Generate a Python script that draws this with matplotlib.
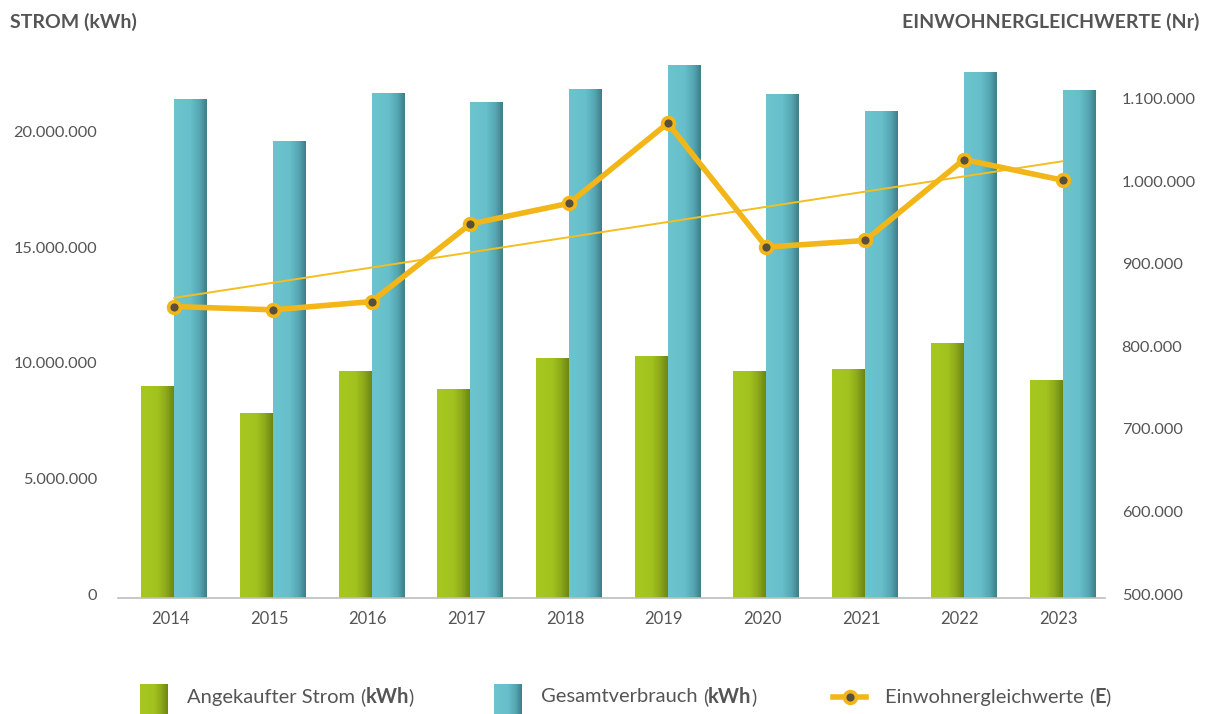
import numpy as np
import matplotlib
matplotlib.use("Agg")
import matplotlib.pyplot as plt
from matplotlib.colors import LinearSegmentedColormap
from matplotlib.lines import Line2D
import matplotlib.transforms as mtransforms
from matplotlib.ticker import FuncFormatter

plt.rcParams['font.family'] = ['Lato', 'DejaVu Sans']

years = ['2014', '2015', '2016', '2017', '2018', '2019', '2020', '2021', '2022', '2023']
angekauft = [9.13e6, 7.97e6, 9.78e6, 9.00e6, 10.35e6, 10.43e6, 9.78e6, 9.87e6, 11.00e6, 9.39e6]
gesamt = [21.56e6, 19.74e6, 21.82e6, 21.43e6, 21.99e6, 23.03e6, 21.77e6, 21.04e6, 22.73e6, 21.95e6]
einwohner = [853000, 849000, 859000, 953000, 978000, 1075000, 925000, 933000, 1031000, 1006000]

left_ticks = [0, 5e6, 10e6, 15e6, 20e6]
right_ticks = [500000, 600000, 700000, 800000, 900000, 1000000, 1100000]

TXT = '#555555'
YEL = '#F2B619'
green_cmap = LinearSegmentedColormap.from_list(
    'g', [(0, '#A7C720'), (0.5, '#A2C21E'), (0.75, '#8EAA1A'), (1, '#6C8613')])
blue_cmap = LinearSegmentedColormap.from_list(
    'b', [(0, '#6DC4CF'), (0.5, '#66BFCA'), (0.78, '#55A6B2'), (1, '#3E7E89')])

W, H = 1209, 714
fig = plt.figure(figsize=(W / 100, H / 100), dpi=100)
ax = fig.add_axes([118 / W, 1 - 598 / H, (1105 - 118) / W, (598 - 20) / H])
ax2 = ax.twinx()

x = np.arange(len(years))
bw = 0.334
b1 = ax.bar(x - bw / 2, angekauft, width=bw, color='none', zorder=2)
b2 = ax.bar(x + bw / 2, gesamt, width=bw, color='none', zorder=2)
grad = np.linspace(0, 1, 200).reshape(1, -1)
for bars, cm in ((b1, green_cmap), (b2, blue_cmap)):
    for b in bars:
        x0, w, h = b.get_x(), b.get_width(), b.get_height()
        ax.imshow(grad, extent=[x0, x0 + w, 0, h], aspect='auto', cmap=cm,
                  zorder=2, interpolation='bilinear')

ax.set_xlim(-0.57, 9.43)
ax.set_ylim(0, 25e6)
ax2.set_ylim(500000, 1200000)

# trend line
coef = np.polyfit(x, einwohner, 1)
ax2.plot(x, np.polyval(coef, x), color='#F4BE1E', lw=1.4, zorder=3)
ax2.plot(x, einwohner, color=YEL, lw=4, marker='o', markersize=8.5,
         markerfacecolor='#5A4E3C', markeredgecolor=YEL, markeredgewidth=2.6,
         solid_joinstyle='round', zorder=4)

fmt = FuncFormatter(lambda v, p: f"{int(round(v)):,}".replace(',', '.'))
ax.set_yticks(left_ticks)
ax.yaxis.set_major_formatter(fmt)
ax2.set_yticks(right_ticks)
ax2.yaxis.set_major_formatter(fmt)
ax.set_xticks(x)
ax.set_xticklabels(years)

ax.tick_params(axis='y', length=0, pad=15, labelsize=11.8, labelcolor=TXT)
ax2.tick_params(axis='y', length=0, pad=12, labelsize=11.8, labelcolor=TXT)
ax.tick_params(axis='x', length=0, pad=9, labelsize=12, labelcolor=TXT)

xoff = mtransforms.ScaledTranslation(-4 / 100, 0, fig.dpi_scale_trans)
for lab in ax.get_xticklabels():
    lab.set_transform(lab.get_transform() + xoff)
yoff = mtransforms.ScaledTranslation(0, 4 / 100, fig.dpi_scale_trans)
for lab in ax.get_yticklabels() + ax2.get_yticklabels():
    lab.set_transform(lab.get_transform() + yoff)

for a in (ax, ax2):
    for s in ('top', 'left', 'right', 'bottom'):
        a.spines[s].set_visible(False)
ax.spines['bottom'].set_visible(True)
ax.spines['bottom'].set_color('#BDBDBD')
ax.spines['bottom'].set_linewidth(1.2)
ax.set_facecolor('none')

fig.text(10 / W, 1 - 22 / H, 'STROM (kWh)', fontsize=14, fontweight='bold', color=TXT, va='center', ha='left')
fig.text(1199 / W, 1 - 22 / H, 'EINWOHNERGLEICHWERTE (Nr)', fontsize=14, fontweight='bold', color=TXT, va='center', ha='right')

# legend
ly = 1 - 697 / H
def grad_patch(x0, cmap):
    lax = fig.add_axes([x0 / W, 0, 28 / W, (714 - 684) / H])
    lax.imshow(grad, aspect='auto', cmap=cmap, extent=[0, 1, 0, 1], interpolation='bilinear')
    lax.set_axis_off()

grad_patch(140, green_cmap)
grad_patch(494, blue_cmap)

def rich_text(x0, parts):
    renderer = fig.canvas.get_renderer()
    xp = x0
    for s, bold in parts:
        t = fig.text(xp / W, ly, s, fontsize=14.5, color=TXT, va='center', ha='left',
                     fontweight='bold' if bold else 'normal')
        bb = t.get_window_extent(renderer=renderer)
        xp += bb.width

rich_text(187, [('Angekaufter Strom ', False), ('(', False), ('kWh', True), (')', False)])
rich_text(541, [('Gesamtverbrauch ', False), ('(', False), ('kWh', True), (')', False)])
rich_text(885, [('Einwohnergleichwerte ', False), ('(', False), ('E', True), (')', False)])
fig.add_artist(Line2D([833 / W, 866 / W], [ly, ly], color=YEL, lw=4))
fig.add_artist(Line2D([850 / W], [ly], color=YEL, marker='o', markersize=8.5,
                      markerfacecolor='#5A4E3C', markeredgecolor=YEL, markeredgewidth=2.6))

fig.savefig('out.png', dpi=100)
